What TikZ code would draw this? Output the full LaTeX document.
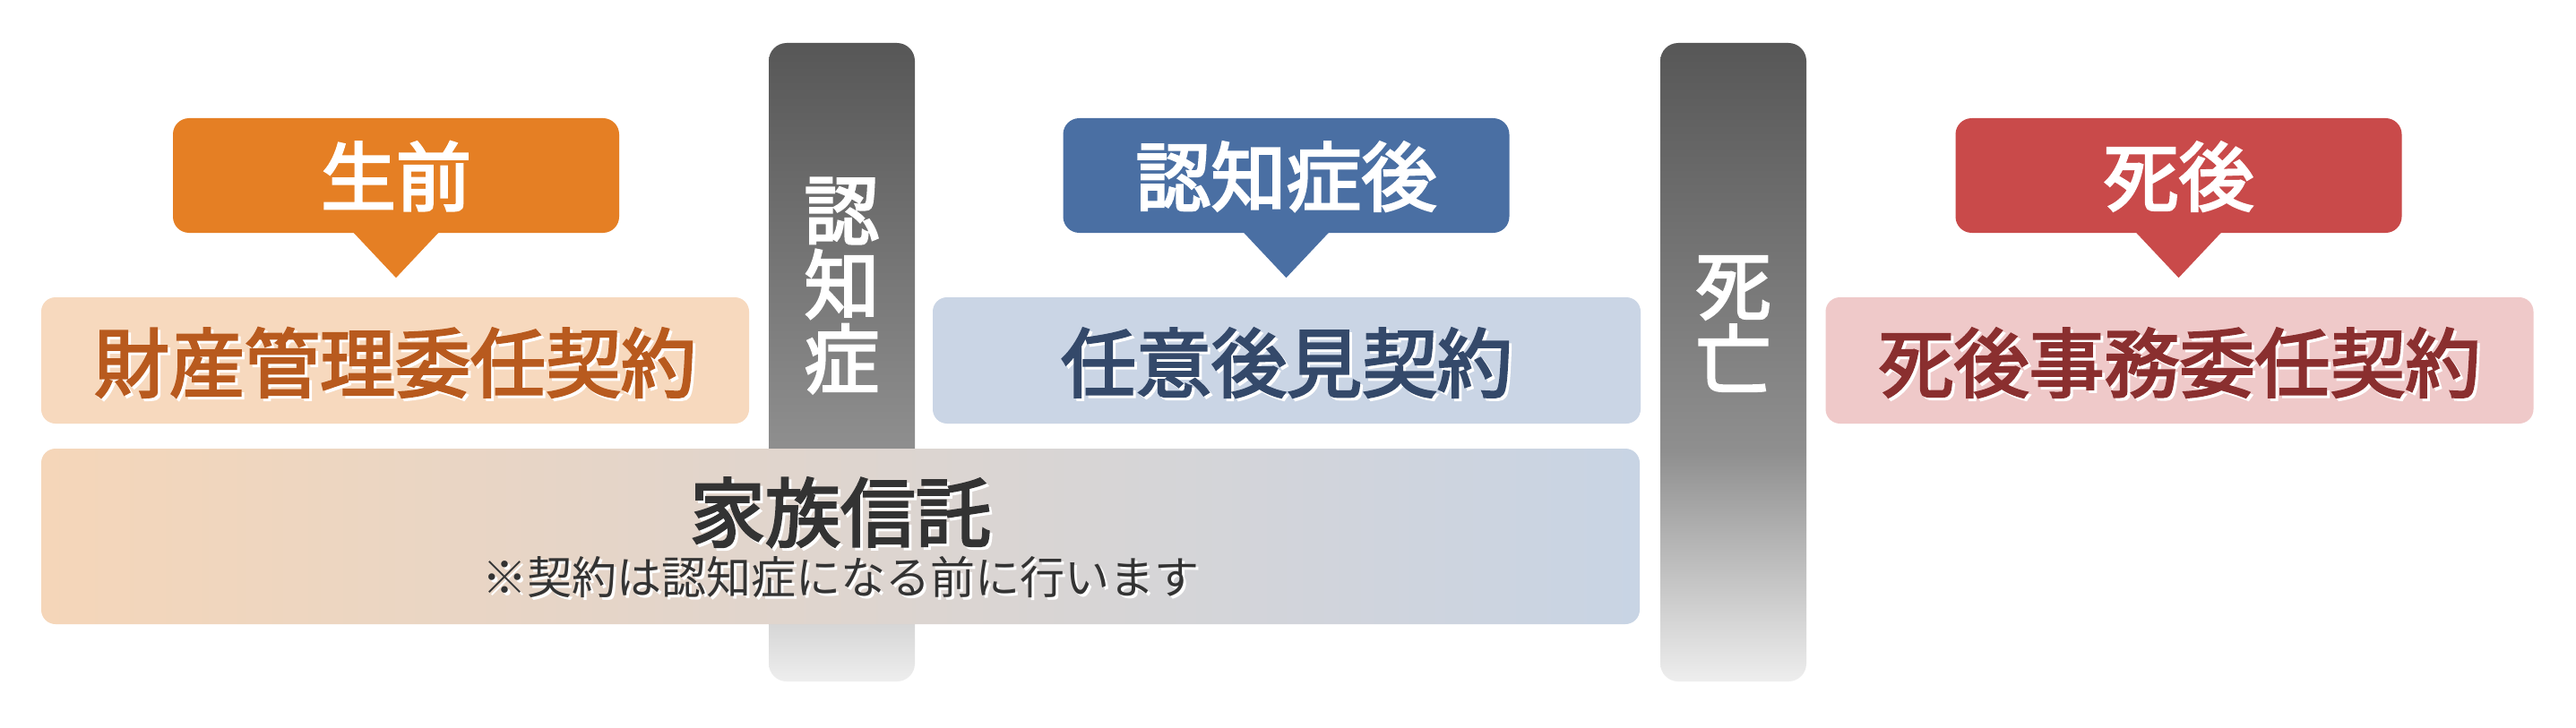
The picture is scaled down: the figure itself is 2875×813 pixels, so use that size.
\documentclass[tikz,border=0pt]{standalone}
\usepackage{fontspec}
\newfontfamily\jp{Noto Sans CJK JP}
\newfontfamily\jpm[FakeBold=3]{Noto Sans CJK JP}
\usetikzlibrary{calc}
\definecolor{orangeC}{HTML}{E57F24}
\definecolor{blueC}{HTML}{4A6FA3}
\definecolor{redC}{HTML}{C94A4A}
\definecolor{peach}{HTML}{F7D9BE}
\definecolor{paleblue}{HTML}{CAD5E5}
\definecolor{palered}{HTML}{EFC9C9}
\definecolor{famL}{HTML}{F5D6B9}
\definecolor{famR}{HTML}{C8D4E4}
\definecolor{orangeT}{HTML}{B85A1E}
\definecolor{blueT}{HTML}{34496A}
\definecolor{redT}{HTML}{8A2F2F}
\definecolor{darkT}{HTML}{333333}
\definecolor{barTop}{HTML}{575757}
\definecolor{barMid}{HTML}{8F8F8F}
\definecolor{barBot}{HTML}{EEEEEE}
\pgfdeclareverticalshading{barshade}{100bp}{color(0bp)=(barBot); color(25bp)=(barBot); color(43bp)=(barMid); color(75bp)=(barTop); color(100bp)=(barTop)}
\newcommand\shtxt[2]{\makebox[0pt][l]{\hspace*{3pt}\raisebox{-3pt}{\color{white}#2}}\textcolor{#1}{#2}}
\tikzset{
  callout/.style={rectangle, rounded corners=18pt, minimum width=498pt, minimum height=128pt, inner sep=0pt},
  box/.style={rectangle, rounded corners=16pt, minimum width=790pt, minimum height=141pt, inner sep=0pt},
  bar/.style={rectangle, rounded corners=20pt, minimum width=163pt, minimum height=713pt, inner sep=0pt, shading=barshade},
  big/.style={font=\jpm\fontsize{84pt}{84pt}\selectfont, inner sep=0pt, anchor=base},
  vtext/.style={font=\jpm\fontsize{84pt}{83pt}\selectfont, inner sep=0pt, align=center, text=white},
  small/.style={font=\jp\fontsize{50pt}{50pt}\selectfont, inner sep=0pt, anchor=base},
}
\begin{document}
\begin{tikzpicture}[x=1pt,y=-1pt]
\useasboundingbox (0,0) rectangle (2875,813);
\fill[white] (0,0) rectangle (2875,813);
% timeline bars
\node[bar] (bar1) at (939.5,404.5) {};
\node[bar] (bar2) at (1934.5,404.5) {};
\node[vtext] (bt1) at (939.5,319) {認\\知\\症};
\node[vtext] (bt2) at (1934.5,361.5) {死\\亡};
% callouts
\node[callout, fill=orangeC] (c1) at (442,196) {};
\node[callout, fill=blueC] (c2) at (1435.5,196) {};
\node[callout, fill=redC] (c3) at (2431.5,196) {};
\fill[orangeC] ([xshift=-48pt,yshift=1pt]c1.south) -- ([yshift=-50pt]c1.south) -- ([xshift=48pt,yshift=1pt]c1.south) -- cycle;
\fill[blueC] ([xshift=-48pt,yshift=1pt]c2.south) -- ([yshift=-50pt]c2.south) -- ([xshift=48pt,yshift=1pt]c2.south) -- cycle;
\fill[redC] ([xshift=-48pt,yshift=1pt]c3.south) -- ([yshift=-50pt]c3.south) -- ([xshift=48pt,yshift=1pt]c3.south) -- cycle;
\node[big, text=white] (ct1) at (442,229) {生前};
\node[big, text=white] (ct2) at (1435.5,229) {認知症後};
\node[big, text=white] (ct3) at (2431.5,229) {死後};
% contract boxes
\node[box, fill=peach] (b1) at (441,402.5) {};
\node[box, fill=paleblue] (b2) at (1436,402.5) {};
\node[box, fill=palered] (b3) at (2432.5,402.5) {};
\node[big] (bt1x) at (441,437) {\shtxt{orangeT}{財産管理委任契約}};
\node[big] (bt2x) at (1436,437) {\shtxt{blueT}{任意後見契約}};
\node[big] (bt3x) at (2432.5,437) {\shtxt{redT}{死後事務委任契約}};
% family trust
\node[rectangle, rounded corners=16pt, minimum width=1784pt, minimum height=196pt, inner sep=0pt, left color=famL, right color=famR] (fam) at (938,599) {};
\node[big] (famt) at (938,604) {\shtxt{darkT}{家族信託}};
\node[small] (famn) at (938,663) {\shtxt{darkT}{※契約は認知症になる前に行います}};
\end{tikzpicture}
\end{document}
